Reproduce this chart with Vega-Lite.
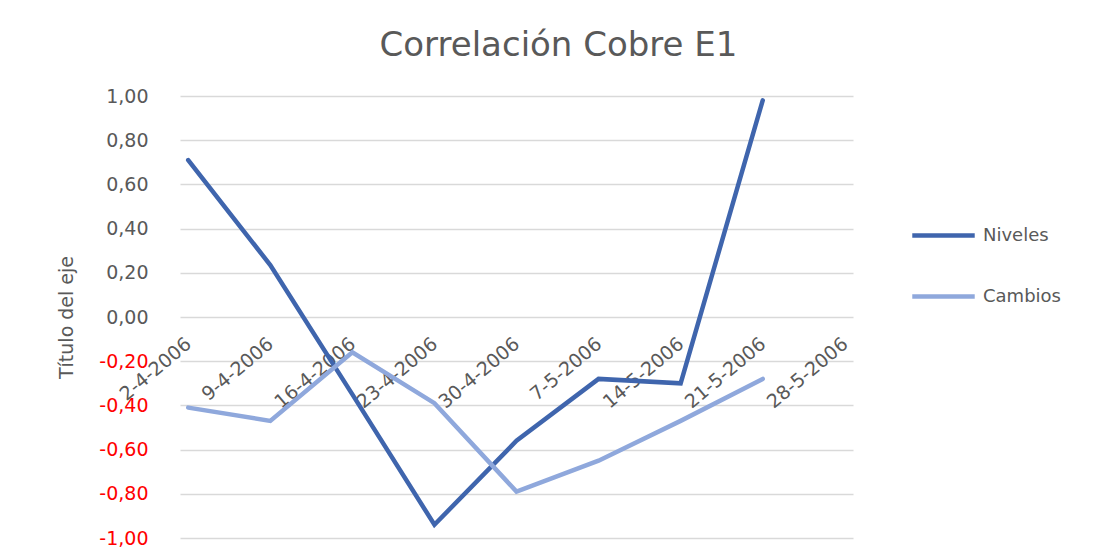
{
  "$schema": "https://vega.github.io/schema/vega-lite/v6.json",
  "width": 673,
  "height": 442,
  "autosize": {"type": "none"},
  "padding": {"left": 180, "top": 96, "right": 257, "bottom": 22},
  "background": "white",
  "title": {
    "text": "Correlación Cobre E1",
    "fontSize": 34,
    "font": "DejaVu Sans",
    "fontWeight": "normal",
    "color": "#595959",
    "anchor": "middle",
    "dx": 42,
    "offset": 24
  },
  "data": {
    "values": [
      {"fecha": "2-4-2006", "serie": "Niveles", "valor": 0.71},
      {"fecha": "9-4-2006", "serie": "Niveles", "valor": 0.235},
      {"fecha": "16-4-2006", "serie": "Niveles", "valor": -0.35},
      {"fecha": "23-4-2006", "serie": "Niveles", "valor": -0.94},
      {"fecha": "30-4-2006", "serie": "Niveles", "valor": -0.56},
      {"fecha": "7-5-2006", "serie": "Niveles", "valor": -0.28},
      {"fecha": "14-5-2006", "serie": "Niveles", "valor": -0.30},
      {"fecha": "21-5-2006", "serie": "Niveles", "valor": 0.98},
      {"fecha": "2-4-2006", "serie": "Cambios", "valor": -0.41},
      {"fecha": "9-4-2006", "serie": "Cambios", "valor": -0.47},
      {"fecha": "16-4-2006", "serie": "Cambios", "valor": -0.16},
      {"fecha": "23-4-2006", "serie": "Cambios", "valor": -0.39},
      {"fecha": "30-4-2006", "serie": "Cambios", "valor": -0.79},
      {"fecha": "7-5-2006", "serie": "Cambios", "valor": -0.65},
      {"fecha": "14-5-2006", "serie": "Cambios", "valor": -0.47},
      {"fecha": "21-5-2006", "serie": "Cambios", "valor": -0.28}
    ]
  },
  "mark": {"type": "line", "strokeWidth": 4.5, "strokeCap": "round", "strokeJoin": "miter"},
  "encoding": {
    "x": {
      "field": "fecha",
      "type": "ordinal",
      "scale": {
        "type": "point",
        "padding": 0.1,
        "domain": ["2-4-2006", "9-4-2006", "16-4-2006", "23-4-2006", "30-4-2006", "7-5-2006", "14-5-2006", "21-5-2006", "28-5-2006"]
      },
      "axis": {
        "title": null,
        "offset": -221,
        "domain": false,
        "ticks": false,
        "grid": false,
        "labelAngle": -40,
        "labelAlign": "right",
        "labelBaseline": "middle",
        "labelPadding": 24,
        "labelFontSize": 19,
        "labelFont": "DejaVu Sans",
        "labelColor": "#595959"
      }
    },
    "y": {
      "field": "valor",
      "type": "quantitative",
      "scale": {"domain": [-1, 1], "nice": false, "zero": false},
      "axis": {
        "title": "Título del eje",
        "titleFontSize": 19,
        "titleFont": "DejaVu Sans",
        "titleFontWeight": "normal",
        "titleColor": "#595959",
        "titlePadding": 22,
        "values": [-1, -0.8, -0.6, -0.4, -0.2, 0, 0.2, 0.4, 0.6, 0.8, 1],
        "labelExpr": "replace(replace(format(datum.value, '.2f'), '.', ','), '−', '-')",
        "labelFontSize": 19,
        "labelFont": "DejaVu Sans",
        "labelColor": {"condition": {"test": "datum.value < 0", "value": "#ff0000"}, "value": "#595959"},
        "labelPadding": 32,
        "domain": false,
        "ticks": false,
        "grid": true,
        "gridColor": "#d9d9d9",
        "gridWidth": 1.5
      }
    },
    "color": {
      "field": "serie",
      "type": "nominal",
      "scale": {"domain": ["Niveles", "Cambios"], "range": ["#3f65ad", "#8fa8dc"]},
      "legend": {
        "title": null,
        "orient": "none",
        "legendX": 730,
        "legendY": 106,
        "symbolType": "stroke",
        "symbolSize": 3900,
        "symbolStrokeWidth": 4.5,
        "labelFontSize": 18,
        "labelFont": "DejaVu Sans",
        "labelColor": "#595959",
        "labelOffset": 6,
        "rowPadding": 18
      }
    }
  },
  "config": {"view": {"stroke": null}}
}
